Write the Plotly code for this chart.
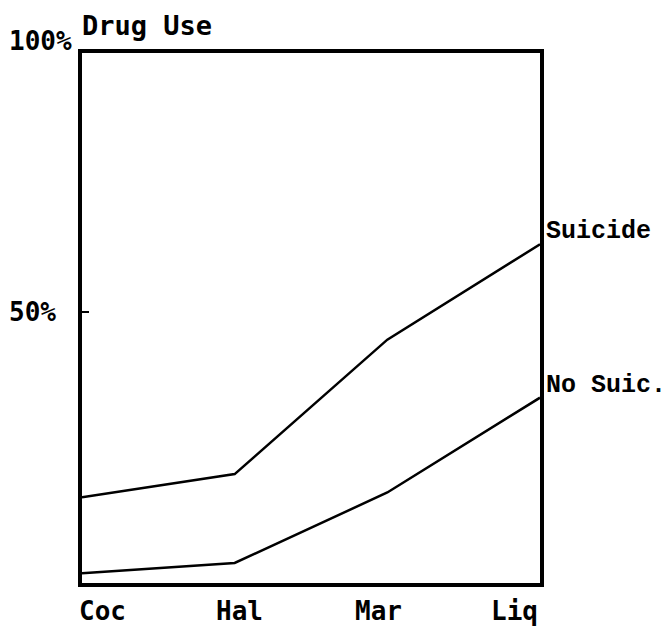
import plotly.graph_objects as go

#========================================================
# data (percent of group)
drugs = ['Coc', 'Hal', 'Mar', 'Liq']
suicide = [15.8, 20.1, 44.9, 62.5]
no_suic = [1.8, 3.7, 16.7, 34.2]
series_names = ['Suicide', 'No Suic.']
y_labels = [100, 50]
y_top = 97.8

sans = 'DejaVu Sans Mono'
serif = 'Liberation Mono'

x_idx = list(range(len(drugs)))

fig = go.Figure()
for name, vals in zip(series_names, [suicide, no_suic]):
    fig.add_trace(go.Scatter(x=x_idx, y=vals, mode='lines', name=name,
                             line=dict(color='black', width=2.5)))
    # series label at the right end
    fig.add_annotation(x=x_idx[-1], y=vals[-1], xref='x', yref='y', text=name,
                       showarrow=False, xanchor='left', yanchor='bottom',
                       xshift=4, yshift=-4,
                       font=dict(family=serif, size=25, color='black', weight='bold'))

# x labels
anchors = ['left', 'center', 'center', 'right']
shifts = [-5, 5, -9, 0]
for i, lab in enumerate(drugs):
    fig.add_annotation(x=x_idx[i], y=0, xref='x', yref='paper', text=lab,
                       showarrow=False, xanchor=anchors[i], yanchor='top',
                       xshift=shifts[i], yshift=-11,
                       font=dict(family=sans, size=26, color='black', weight='bold'))

# y labels (100% sits above the frame, so place on paper coords)
for v in y_labels:
    fig.add_annotation(x=0, y=v / y_top, xref='paper', yref='paper', text=f'{v}%',
                       showarrow=False, xanchor='left', yanchor='middle',
                       xshift=-75,
                       font=dict(family=sans, size=26, color='black', weight='bold'))

fig.add_annotation(x=0, y=1, xref='paper', yref='paper', text='Drug Use',
                   showarrow=False, xanchor='left', yanchor='bottom',
                   xshift=-2, yshift=10,
                   font=dict(family=sans, size=27, color='black', weight='bold'))

fig.update_xaxes(range=[0, 3], showgrid=False, zeroline=False, showticklabels=False,
                 showline=True, mirror=True, linecolor='black', linewidth=4, ticks='')
fig.update_yaxes(range=[0, y_top], showgrid=False, zeroline=False, showticklabels=False,
                 showline=True, mirror=True, linecolor='black', linewidth=4,
                 ticks='inside', tickvals=[50], ticklen=7, tickwidth=2, tickcolor='black')

# page body has an 8px margin, so shrink the figure to fit the window
fig.update_layout(width=661, height=621, showlegend=False,
                  margin=dict(l=74, r=129, t=45, b=46),
                  plot_bgcolor='white', paper_bgcolor='white')

fig.write_html('out.html')
